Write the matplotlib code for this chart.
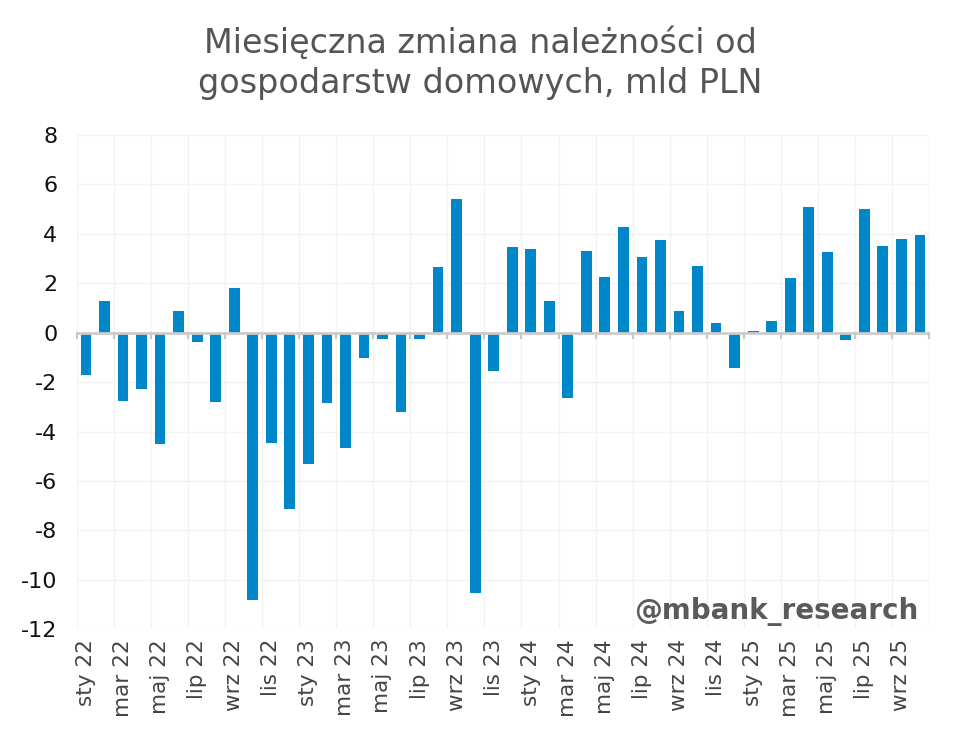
import matplotlib
matplotlib.use("Agg")
import matplotlib.pyplot as plt
import numpy as np

#======#
# Data #
#======#

months = ["sty", "lut", "mar", "kwi", "maj", "cze", "lip", "sie", "wrz", "paź", "lis", "gru"]
years = ["22", "23", "24", "25"]
labels = [m + " " + y for y in years for m in months][:46]

values = [
    -1.73, 1.27, -2.75, -2.27, -4.50, 0.89, -0.38, -2.79, 1.81, -10.83, -4.48, -7.15,
    -5.31, -2.83, -4.68, -1.04, -0.26, -3.22, -0.26, 2.65, 5.42, -10.53, -1.53, 3.45,
    3.38, 1.30, -2.66, 3.30, 2.26, 4.27, 3.05, 3.77, 0.86, 2.72, 0.40, -1.41,
    0.05, 0.47, 2.20, 5.08, 3.26, -0.28, 4.99, 3.50, 3.81, 3.96,
]

yticks = [8, 6, 4, 2, 0, -2, -4, -6, -8, -10, -12]

TITLE_LINES = ["Miesięczna zmiana należności od", "gospodarstw domowych, mld PLN"]
BAR_COLOR = "#0087C9"
GRID_COLOR = "#f3f3f3"

#======#
# Plot #
#======#

fig = plt.figure(figsize=(9.6, 7.42), dpi=100)
ax = fig.add_axes([0.0799, 0.152, 0.888, 0.666])

x = np.arange(len(values))
ax.bar(x, values, width=0.58, color=BAR_COLOR, zorder=3)

ax.set_xlim(-0.5, len(values) - 0.5)
ax.set_ylim(-12, 8)

# vertical grid every two months, horizontal grid at y ticks
edges = list(np.arange(-0.5, len(values), 2)) + [len(values) - 0.5]
for b in edges:
    ax.axvline(b, color=GRID_COLOR, lw=1, zorder=0)
    ax.plot([b, b], [0, -0.2], color="#c8c8c8", lw=1.5, zorder=4, clip_on=False)
for yv in yticks:
    ax.axhline(yv, color=GRID_COLOR, lw=1, zorder=0)
ax.axhline(0, color="#cccccc", lw=2, zorder=4)

ax.set_yticks(yticks)
ax.set_yticklabels([str(v) for v in yticks], fontsize=16, color="#111111")
ax.set_xticks(x[::2])
ax.set_xticklabels(labels[::2], rotation=90, fontsize=15.5, color="#444444")
ax.tick_params(axis="both", length=0)
ax.tick_params(axis="y", pad=14)
ax.tick_params(axis="x", pad=7)

for s in ax.spines.values():
    s.set_visible(False)

fig.text(0.5, 1 - 53 / 742, TITLE_LINES[0], ha="center", va="baseline",
         fontsize=24, color="#555555")
fig.text(0.5, 1 - 93 / 742, TITLE_LINES[1], ha="center", va="baseline",
         fontsize=24, color="#555555")

ax.text(len(values) - 1.07, -11.6, "@mbank_research", ha="right",
        va="baseline", fontsize=20, fontweight="bold", color="#5a5a5a", zorder=5)

fig.savefig("out.png", dpi=100)
